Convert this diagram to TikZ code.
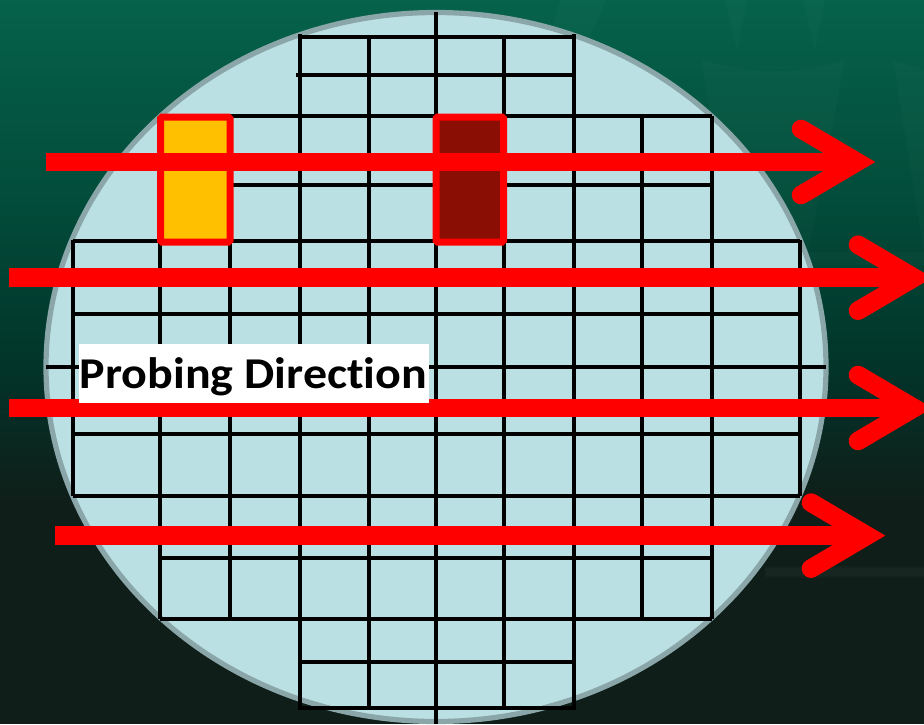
\documentclass[tikz,border=0pt]{standalone}
\usepackage{fontspec}
\usepackage{graphicx}
\setmainfont{Carlito}[Ligatures=NoCommon]
\definecolor{wafer}{HTML}{BBE0E3}
\definecolor{waferrim}{HTML}{8AA6A9}
\definecolor{bgA}{HTML}{06624B}
\definecolor{bgB}{HTML}{024C3A}
\definecolor{bgC}{HTML}{02352A}
\definecolor{bgD}{HTML}{0F1E19}
\definecolor{dieA}{HTML}{FFC000}
\definecolor{dieB}{HTML}{8B0E04}
\tikzset{
  gridline/.style={line width=4pt,black},
  diebox/.style={line width=7pt,red,rounded corners=1.5pt},
  shaft/.style={line width=18.6pt,red},
  headline/.style={line width=18.6pt,red,line cap=round,miter limit=10},
  glow/.style={fill=white,fill opacity=0.018,draw=none},
}
\newcommand{\probearrow}[3]{%
  \coordinate (s) at (#1,#3);
  \coordinate (a) at (#2-18,#3);
  \draw[shaft] (s) -- (a);
  \draw[headline] (#2-74,#3-33) -- (a) -- (#2-74,#3+33);
}
\begin{document}
\begin{tikzpicture}[x=1pt,y=-1pt]
\useasboundingbox (0,0) rectangle (924,724);
\begin{scope}
\clip (0,0) rectangle (924,724);
\fill[top color=bgA,bottom color=bgB] (0,0) rectangle (924,200);
\fill[top color=bgB,bottom color=bgC] (0,200) rectangle (924,362);
\fill[top color=bgC,bottom color=bgD] (0,362) rectangle (924,500);
\fill[bgD] (0,500) rectangle (924,724);
% faint background shapes
\fill[glow] (560,0) -- (606,0) -- (590,37) -- (550,37) -- cycle;
\fill[glow] (725,0) -- (748,0) -- (737,50) -- cycle;
\fill[glow] (803,0) -- (825,0) -- (815,50) -- cycle;
\fill[glow] (702,60) .. controls (760,75) and (790,75) .. (845,60) -- (808,252) -- (730,252) -- cycle;
\fill[glow] (893,60) -- (924,70) -- (924,252) -- cycle;
\fill[glow] (800,252) rectangle (924,265);
\fill[white,opacity=0.02] (765,566) rectangle (924,578);
\fill[white,opacity=0.02] (765,568) rectangle (924,576);
\node[circle,inner sep=0pt,minimum size=0pt] (centre) at (436,367) {};
\draw[line width=5.2pt,draw=waferrim,fill=wafer] (centre) ellipse [x radius=390, y radius=354.5];
% grid
\foreach \x/\a/\b in {300/34/710,369/36/708,436/12/724,504/36/708,574/34/710,
    160/116/619,230/116/619,642/116/619,712/116/619,73/240/496,800/240/496}
  \draw[gridline] (\x,\a) -- (\x,\b);
\foreach \y/\a/\b in {36.5/300/574,74.5/296/574,116/160/712,185/160/712,241/73/800,
    314/73/800,367/46/826,434/73/800,496/73/800,558/160/712,619/160/712,662/300/574,708/298/576}
  \draw[gridline] (\a,\y) -- (\b,\y);
% highlighted dies
\draw[diebox,fill=dieA] (160.5,117) rectangle (230,242);
\draw[diebox,fill=dieB] (436,117) rectangle (503.5,242);
% arrows
\probearrow{46}{875}{162}
\probearrow{9}{932}{277.7}
\probearrow{9}{932}{408}
\probearrow{55}{885}{535.6}
\node[fill=white,inner sep=0pt,minimum width=350pt,minimum height=59.5pt] (labelbox) at (254,373.7) {};
\node[anchor=base,inner sep=0pt,font=\bfseries\fontsize{44}{44}\selectfont] (label) at (253.5,388.5) {\scalebox{1.09}[1]{Probing Direction}};
\end{scope}
\end{tikzpicture}
\end{document}
